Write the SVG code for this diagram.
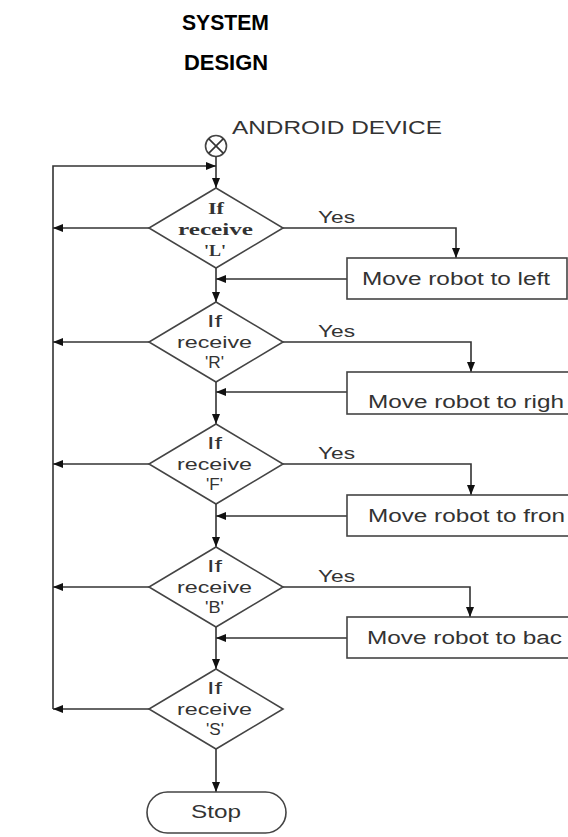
<svg xmlns="http://www.w3.org/2000/svg" width="568" height="837" viewBox="0 0 568 837">
<style>
.ln{fill:none;stroke:#333;stroke-width:1.6}
.shp{fill:#fff;stroke:#444;stroke-width:1.6}
.t{font-family:"Liberation Sans",Arial,sans-serif;fill:#333}
.ts{font-family:"Liberation Serif","Times New Roman",serif;fill:#333;font-weight:bold}
.title{font-family:"Liberation Sans",Arial,sans-serif;font-weight:bold;font-size:22px;fill:#000}
</style>
<defs>
<marker id="ah" viewBox="0 0 10 8" refX="10" refY="4" markerWidth="10" markerHeight="8" markerUnits="userSpaceOnUse" orient="auto">
<path d="M0,0 L10,4 L0,8 Z" fill="#111"/>
</marker>
</defs>
<rect width="568" height="837" fill="#fff"/>
<g id="title">
<text class="title" x="182" y="30" textLength="87" lengthAdjust="spacingAndGlyphs">SYSTEM</text>
<text class="title" x="184" y="70" textLength="84" lengthAdjust="spacingAndGlyphs">DESIGN</text>
</g>
<g id="start">
<circle class="shp" cx="216" cy="146" r="10.5"/>
<path class="ln" d="M208.6,138.6 L223.4,153.4 M223.4,138.6 L208.6,153.4"/>
<text class="t" x="232" y="134" font-size="19" fill="#444" textLength="210" lengthAdjust="spacingAndGlyphs">ANDROID DEVICE</text>
</g>
<g id="connectors">
<path class="ln" d="M216,156.5 V188" marker-end="url(#ah)"/>
<path class="ln" d="M53,709 V166 H216" marker-end="url(#ah)"/>
<path class="ln" d="M149,228 H53" marker-end="url(#ah)"/>
<path class="ln" d="M283,228 H456 V258" marker-end="url(#ah)"/>
<path class="ln" d="M347,279 H216" marker-end="url(#ah)"/>
<path class="ln" d="M216,268 V302" marker-end="url(#ah)"/>
<path class="ln" d="M149,342 H53" marker-end="url(#ah)"/>
<path class="ln" d="M283,342 H471 V372" marker-end="url(#ah)"/>
<path class="ln" d="M347,392 H216" marker-end="url(#ah)"/>
<path class="ln" d="M216,382 V424" marker-end="url(#ah)"/>
<path class="ln" d="M149,464 H53" marker-end="url(#ah)"/>
<path class="ln" d="M283,464 H471 V495" marker-end="url(#ah)"/>
<path class="ln" d="M347,516 H216" marker-end="url(#ah)"/>
<path class="ln" d="M216,504 V547" marker-end="url(#ah)"/>
<path class="ln" d="M149,587 H53" marker-end="url(#ah)"/>
<path class="ln" d="M283,587 H470 V617" marker-end="url(#ah)"/>
<path class="ln" d="M347,638 H216" marker-end="url(#ah)"/>
<path class="ln" d="M216,627 V669" marker-end="url(#ah)"/>
<path class="ln" d="M149,709 H53" marker-end="url(#ah)"/>
<path class="ln" d="M216,749 V792" marker-end="url(#ah)"/>
<text class="t" x="318" y="223" font-size="16" textLength="37" lengthAdjust="spacingAndGlyphs">Yes</text>
<text class="t" x="318" y="337" font-size="16" textLength="37" lengthAdjust="spacingAndGlyphs">Yes</text>
<text class="t" x="318" y="459" font-size="16" textLength="37" lengthAdjust="spacingAndGlyphs">Yes</text>
<text class="t" x="318" y="582" font-size="16" textLength="37" lengthAdjust="spacingAndGlyphs">Yes</text>
</g>
<g id="decL">
<polygon class="shp" points="216,188 283,228 216,268 149,228"/>
<text class="ts" x="208" y="214" font-size="16" textLength="16" lengthAdjust="spacingAndGlyphs">If</text>
<text class="ts" x="178" y="235" font-size="16" textLength="75" lengthAdjust="spacingAndGlyphs">receive</text>
<text class="ts" x="204" y="256" font-size="16" textLength="22" lengthAdjust="spacingAndGlyphs">'L'</text>
</g>
<g id="boxL">
<rect class="shp" x="347" y="258" width="220" height="41"/>
<text class="t" x="362" y="285" font-size="18" textLength="188" lengthAdjust="spacingAndGlyphs">Move robot to left</text>
</g>
<g id="decR">
<polygon class="shp" points="216,302 283,342 216,382 149,342"/>
<text class="t" x="207" y="327" font-size="16" textLength="15" lengthAdjust="spacingAndGlyphs">If</text>
<text class="t" x="177" y="348" font-size="16" textLength="75" lengthAdjust="spacingAndGlyphs">receive</text>
<text class="t" x="205" y="368" font-size="16" textLength="19" lengthAdjust="spacingAndGlyphs">'R'</text>
</g>
<g id="boxR">
<rect class="shp" x="347" y="372" width="225" height="42"/>
<text class="t" x="368" y="408" font-size="18" textLength="196" lengthAdjust="spacingAndGlyphs">Move robot to righ</text>
</g>
<g id="decF">
<polygon class="shp" points="216,424 283,464 216,504 149,464"/>
<text class="t" x="207" y="449" font-size="16" textLength="15" lengthAdjust="spacingAndGlyphs">If</text>
<text class="t" x="177" y="470" font-size="16" textLength="75" lengthAdjust="spacingAndGlyphs">receive</text>
<text class="t" x="206" y="490" font-size="16" textLength="17" lengthAdjust="spacingAndGlyphs">'F'</text>
</g>
<g id="boxF">
<rect class="shp" x="347" y="495" width="225" height="41"/>
<text class="t" x="368" y="522" font-size="18" textLength="197" lengthAdjust="spacingAndGlyphs">Move robot to fron</text>
</g>
<g id="decB">
<polygon class="shp" points="216,547 283,587 216,627 149,587"/>
<text class="t" x="207" y="572" font-size="16" textLength="15" lengthAdjust="spacingAndGlyphs">If</text>
<text class="t" x="177" y="593" font-size="16" textLength="75" lengthAdjust="spacingAndGlyphs">receive</text>
<text class="t" x="205" y="613" font-size="16" textLength="19" lengthAdjust="spacingAndGlyphs">'B'</text>
</g>
<g id="boxB">
<rect class="shp" x="347" y="617" width="225" height="41"/>
<text class="t" x="367" y="644" font-size="18" textLength="195" lengthAdjust="spacingAndGlyphs">Move robot to bac</text>
</g>
<g id="decS">
<polygon class="shp" points="216,669 283,709 216,749 149,709"/>
<text class="t" x="207" y="694" font-size="16" textLength="15" lengthAdjust="spacingAndGlyphs">If</text>
<text class="t" x="177" y="715" font-size="16" textLength="75" lengthAdjust="spacingAndGlyphs">receive</text>
<text class="t" x="206" y="735" font-size="16" textLength="18" lengthAdjust="spacingAndGlyphs">'S'</text>
</g>
<g id="stop">
<rect class="shp" x="147" y="792" width="139" height="41" rx="20.5"/>
<text class="t" x="191" y="818" font-size="18" textLength="50" lengthAdjust="spacingAndGlyphs">Stop</text>
</g>
</svg>
